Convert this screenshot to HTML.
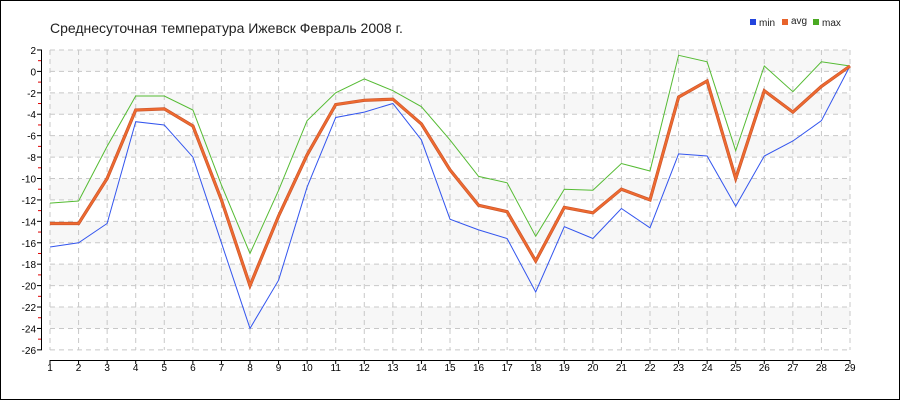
<!DOCTYPE html>
<html><head><meta charset="utf-8"><style>
html,body{margin:0;padding:0;background:#fff;}
svg{display:block;font-family:"Liberation Sans",sans-serif;}
</style></head><body>
<svg id="c" width="900" height="400" xmlns="http://www.w3.org/2000/svg">
<rect x="0.5" y="0.5" width="899" height="399" fill="#fff" stroke="#000" stroke-width="1"/>
<text x="50" y="33" font-size="14" fill="#222">Среднесуточная температура Ижевск  Февраль 2008 г.</text>
<rect x="750" y="19" width="6" height="6" fill="#2244dd"/><text x="759" y="26" font-size="10" fill="#222">min</text>
<rect x="782" y="19" width="6" height="6" fill="#e8632b"/><text x="791" y="24" font-size="10" fill="#222">avg</text>
<rect x="813" y="19" width="6" height="6" fill="#4aaa22"/><text x="822" y="26" font-size="10" fill="#222">max</text>
<g id="g"></g>
</svg>
<script>
var g=document.getElementById('g'),s='';
function X(d){return 50+(d-1)*800/28;}
function Y(v){return 71.4-v*10.71;}
for(var v=2;v>-26;v-=2){var i=(2-v)/2;if(i%2==0)s+='<rect x="50" y="'+Y(v)+'" width="800" height="'+(2*10.71)+'" fill="#f7f7f7"/>';}
for(var v=2;v>=-26;v-=2){s+='<line x1="50" x2="850" y1="'+Y(v)+'" y2="'+Y(v)+'" stroke="#c8c8c8" stroke-dasharray="5,4"/>';
s+='<line x1="37" x2="42" y1="'+Y(v)+'" y2="'+Y(v)+'" stroke="#000"/>';
s+='<text x="36" y="'+(Y(v)+4)+'" font-size="10" text-anchor="end" fill="#000">'+(v<0?'-'+(-v):v)+'</text>';
if(v>-26)s+='<line x1="38" x2="42" y1="'+Y(v-1)+'" y2="'+Y(v-1)+'" stroke="#d00"/>';}
for(var d=1;d<=29;d++){s+='<line x1="'+X(d)+'" x2="'+X(d)+'" y1="50" y2="350" stroke="#c8c8c8" stroke-dasharray="5,4"/>';
s+='<line x1="'+X(d)+'" x2="'+X(d)+'" y1="360" y2="364" stroke="#000"/>';
s+='<text x="'+X(d)+'" y="371" font-size="10" text-anchor="middle" fill="#000">'+d+'</text>';}
s+='<line x1="41.5" x2="41.5" y1="50" y2="350" stroke="#000"/>';
s+='<line x1="50" x2="850" y1="360.5" y2="360.5" stroke="#000"/>';
var mx=[-12.3,-12.1,-7,-2.3,-2.3,-3.6,-10.6,-17,-11.1,-4.6,-2,-0.7,-1.8,-3.3,-6.4,-9.8,-10.4,-15.4,-11,-11.1,-8.6,-9.3,1.5,0.9,-7.4,0.5,-1.9,0.9,0.5];
var av=[-14.2,-14.2,-10,-3.6,-3.5,-5.1,-12,-20,-13.5,-7.8,-3.1,-2.7,-2.6,-4.9,-9.2,-12.5,-13.1,-17.7,-12.7,-13.2,-11,-12,-2.4,-0.9,-10,-1.8,-3.8,-1.4,0.5];
var mn=[-16.4,-16,-14.2,-4.7,-5,-8,-16,-24,-19.5,-10.8,-4.3,-3.8,-3,-6.4,-13.8,-14.8,-15.6,-20.6,-14.5,-15.6,-12.8,-14.6,-7.7,-7.9,-12.6,-7.9,-6.5,-4.6,0.5];
function P(a){return a.map(function(v,i){return X(i+1).toFixed(1)+','+Y(v).toFixed(1);}).join(' ');}
s+='<polyline points="'+P(mn)+'" fill="none" stroke="#3355ee" stroke-width="1"/>';
s+='<polyline points="'+P(mx)+'" fill="none" stroke="#55bb33" stroke-width="1"/>';
s+='<polyline points="'+P(av)+'" fill="none" stroke="#c8532a" stroke-width="3.2"/>';
s+='<polyline points="'+P(av)+'" fill="none" stroke="#ee6a30" stroke-width="2"/>';
g.innerHTML=s;
</script>
</body></html>
